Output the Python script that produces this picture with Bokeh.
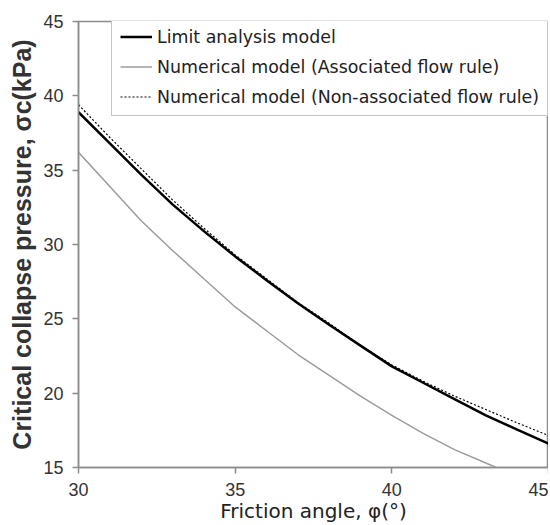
from bokeh.plotting import figure
from bokeh.models import Range1d, FixedTicker, Legend, LegendItem
from bokeh.embed import file_html
from bokeh.resources import INLINE

phi = [30, 31, 32, 33, 34, 35, 36, 37, 38, 39, 40, 41, 42, 43, 44, 45]
limit_analysis = [38.9, 36.8, 34.7, 32.7, 30.9, 29.2, 27.6, 26.05, 24.6, 23.2, 21.8, 20.7, 19.6, 18.5, 17.55, 16.6]
assoc = [36.2, 33.9, 31.6, 29.6, 27.7, 25.8, 24.2, 22.6, 21.2, 19.8, 18.5, 17.3, 16.2, 15.3, 14.4, 13.6]
non_assoc = [39.4, 37.2, 35.1, 33.0, 31.1, 29.3, 27.7, 26.1, 24.7, 23.2, 21.9, 20.8, 19.8, 18.9, 18.0, 17.15]
x_ticks = [30, 35, 40, 45]
y_ticks = [15, 20, 25, 30, 35, 40, 45]

p = figure(width=548, height=525, output_backend="svg", toolbar_location=None,
           x_range=Range1d(30, 45), y_range=Range1d(15, 45),
           min_border_left=78, min_border_right=0, min_border_top=21, min_border_bottom=58)

axis_col = "#8c8c8c"
p.outline_line_color = axis_col
p.outline_line_width = 1.5
p.xgrid.visible = False
p.ygrid.visible = False
p.background_fill_color = "white"

for ax in (p.xaxis[0], p.yaxis[0]):
    ax.axis_line_color = axis_col
    ax.axis_line_width = 1.5
    ax.major_tick_line_color = axis_col
    ax.major_tick_line_width = 1.5
    ax.major_tick_out = 6
    ax.major_tick_in = 0
    ax.minor_tick_line_color = None
    ax.major_label_text_font = "Liberation Sans"
    ax.major_label_text_font_size = "18px"
    ax.major_label_text_color = "#333333"

p.xaxis.ticker = FixedTicker(ticks=x_ticks)
p.yaxis.ticker = FixedTicker(ticks=y_ticks)
p.xaxis.major_label_standoff = 9
p.yaxis.major_label_standoff = 9
p.xaxis.axis_label = "Friction angle, φ(°)"
p.xaxis.axis_label_text_font = "DejaVu Sans"
p.xaxis.axis_label_text_font_size = "20px"
p.xaxis.axis_label_text_font_style = "normal"
p.xaxis.axis_label_text_color = "#222222"
p.xaxis.axis_label_standoff = 0
p.yaxis.axis_label = "Critical collapse pressure, σc(kPa)"
p.yaxis.axis_label_text_font = "Liberation Sans"
p.yaxis.axis_label_text_font_size = "25px"
p.yaxis.axis_label_text_font_style = "bold"
p.yaxis.axis_label_text_color = "#333333"
p.yaxis.axis_label_standoff = 4

r1 = p.line(phi, limit_analysis, line_color="black", line_width=2.5)
r2 = p.line(phi, assoc, line_color="#9c9c9c", line_width=1.5)
r3 = p.line(phi, non_assoc, line_color="black", line_width=1.2, line_dash="2 2")

legend = Legend(items=[
    LegendItem(label="Limit analysis model", renderers=[r1]),
    LegendItem(label="Numerical model (Associated flow rule)", renderers=[r2]),
    LegendItem(label="Numerical model (Non-associated flow rule)", renderers=[r3]),
], location=(33, 351))
legend.margin = 0
legend.padding = 8
legend.spacing = 9
legend.glyph_width = 32
legend.glyph_height = 21
legend.label_height = 21
legend.label_standoff = 5
legend.label_text_font = "DejaVu Sans"
legend.label_text_font_size = "17.4px"
legend.label_text_color = "#222222"
legend.border_line_color = axis_col
legend.border_line_width = 1.5
legend.background_fill_alpha = 1
p.add_layout(legend)

open("out.html", "w").write(file_html(p, INLINE))
